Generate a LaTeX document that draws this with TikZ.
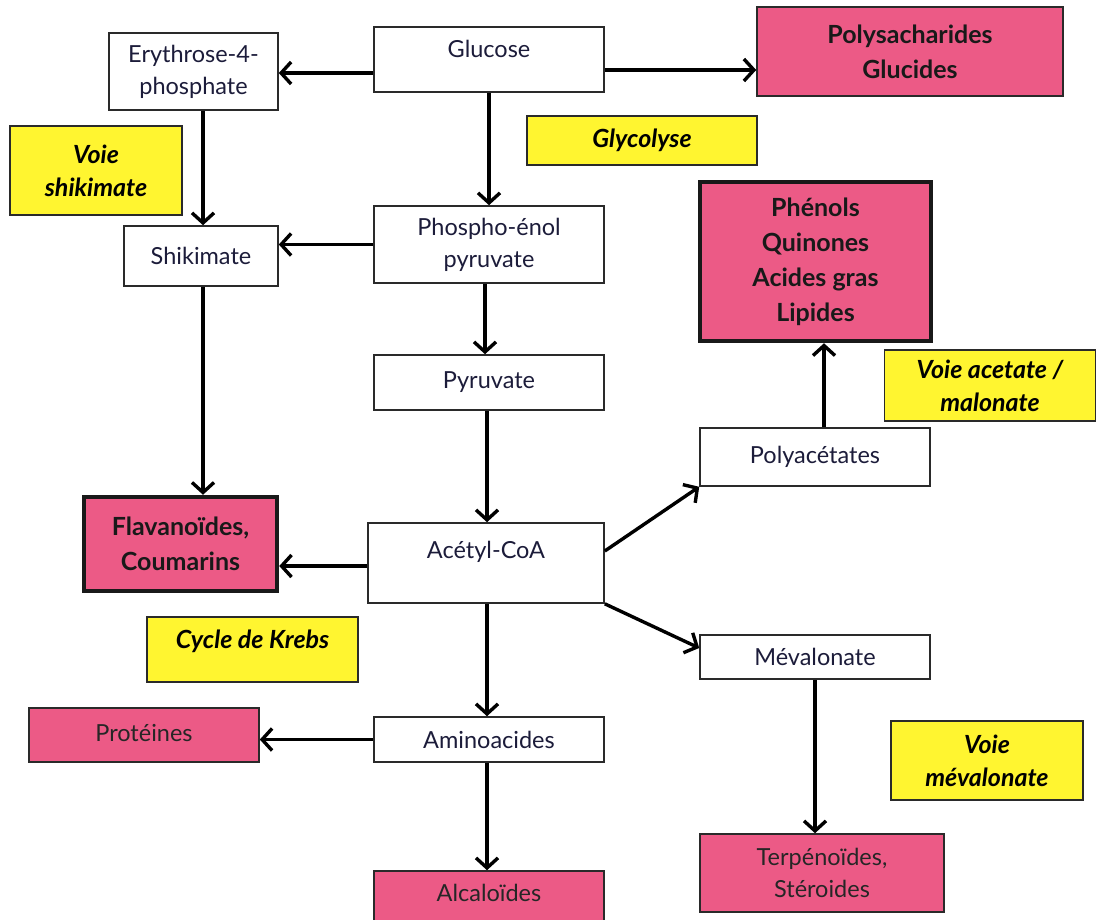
\documentclass[tikz,border=0pt]{standalone}
\usepackage{fontspec}
\setmainfont{Lato}
\usetikzlibrary{arrows.meta}
\definecolor{pinkc}{HTML}{EC5A86}
\definecolor{yellc}{HTML}{FFF530}
\definecolor{navyt}{HTML}{1C1C3A}
\definecolor{edgec}{HTML}{2A2A2A}
\tikzset{
  regfont/.style={font=\fontsize{23.5}{32}\selectfont},
  base/.style={rectangle, draw=edgec, line width=1.6pt, inner sep=2pt, align=center, regfont},
  wbox/.style={base, fill=white, text=navyt},
  pbox/.style={base, fill=pinkc, text=black!85},
  pbold/.style={base, fill=pinkc, text=black!90, font=\fontsize{25}{35}\selectfont\bfseries},
  thickbox/.style={pbold, line width=4.5pt, draw=black!90},
  ybox/.style={base, fill=yellc, text=black, font=\fontsize{25}{33}\selectfont\bfseries\itshape},
  arr/.style={line width=3.4pt, black, -{Straight Barb[length=10pt,width=22pt]}},
}
\begin{document}
\begin{tikzpicture}[x=1pt,y=-1pt]
\useasboundingbox (0,0) rectangle (1097,919);
% boxes
\node[wbox, minimum width=169pt, minimum height=77pt] (ery) at (193.5,71.5) {Erythrose-4-\\phosphate};
\node[wbox, minimum width=230pt, minimum height=65pt] (glu) at (489,59.5) {};
\node[text=navyt, regfont, anchor=base] (glut) at (489,57) {Glucose};
\node[pbold, minimum width=306pt, minimum height=89pt] (poly) at (910,51.5) {Polysacharides\\Glucides};
\node[ybox, minimum width=230pt, minimum height=49pt] (glyc) at (642,140.5) {Glycolyse};
\node[ybox, minimum width=172pt, minimum height=89pt] (vshik) at (96,170.5) {Voie\\shikimate};
\node[wbox, minimum width=154pt, minimum height=60pt] (shik) at (201,256) {Shikimate};
\node[wbox, minimum width=230pt, minimum height=77pt] (pep) at (489,244.5) {Phospho-énol\\pyruvate};
\node[thickbox, minimum width=231pt, minimum height=159pt] (phen) at (815.5,261.5) {Phénols\\Quinones\\Acides gras\\Lipides};
\node[ybox, minimum width=211pt, minimum height=71pt] (vacet) at (990,385.5) {Voie acetate /\\malonate};
\node[wbox, minimum width=230pt, minimum height=55pt] (pyr) at (489,382.5) {Pyruvate};
\node[wbox, minimum width=230pt, minimum height=58pt] (polyac) at (815,457) {Polyacétates};
\node[thickbox, minimum width=193pt, minimum height=94pt] (flav) at (180.5,544) {Flavanoïdes,\\Coumarins};
\node[wbox, minimum width=236pt, minimum height=80pt] (acet) at (486,563) {};
\node[text=navyt, regfont, anchor=base] (acett) at (486,558) {Acétyl-CoA};
\node[ybox, minimum width=211pt, minimum height=65pt] (krebs) at (252.5,649.5) {};
\node[font=\fontsize{25}{33}\selectfont\bfseries\itshape, anchor=base] (krebst) at (252.5,648) {Cycle de Krebs};
\node[wbox, minimum width=230pt, minimum height=44pt] (meval) at (815,657) {Mévalonate};
\node[pbox, minimum width=230pt, minimum height=54pt] (prot) at (144,735) {};
\node[text=black!85, regfont, anchor=base] (prott) at (144,741) {Protéines};
\node[wbox, minimum width=230pt, minimum height=45pt] (amino) at (489,739.5) {Aminoacides};
\node[ybox, minimum width=192pt, minimum height=79pt] (vmev) at (987,760.5) {Voie\\mévalonate};
\node[pbox, minimum width=244pt, minimum height=78pt] (terp) at (822,873) {Terpénoïdes,\\Stéroides};
\node[pbox, minimum width=230pt, minimum height=52pt] (alc) at (489,897) {};
\node[text=black!85, regfont, anchor=base] (alct) at (489,901) {Alcaloïdes};
% arrows
\draw[arr] ([yshift=-13.5pt]glu.west) coordinate (a1) -- (a1 -| ery.east);
\draw[arr] ([yshift=-10.5pt]glu.east) coordinate (a2) -- (a2 -| poly.west);
\draw[arr] (glu.south) -- (pep.north);
\draw[arr] ([xshift=9.5pt]ery.south) coordinate (a4) -- (a4 |- shik.north);
\draw[arr] (pep.west) -- (pep.west -| shik.east);
\draw[arr] ([xshift=-4pt]pep.south) coordinate (a6) -- (a6 |- pyr.north);
\draw[arr] ([xshift=2pt]shik.south) coordinate (a7) -- (a7 |- flav.north);
\draw[arr] ([xshift=-2pt]pyr.south) coordinate (a8) -- (a8 |- acet.north);
\draw[arr] ([yshift=-3pt]acet.west) coordinate (a9) -- (a9 -| flav.east);
\draw[arr] ([yshift=12pt]acet.east) -- (polyac.south west);
\draw[arr] (acet.south east) -- ([yshift=9pt]meval.west);
\draw[arr] ([xshift=1pt]acet.south) coordinate (a12) -- (a12 |- amino.north);
\draw[arr] (amino.west) -- (amino.west -| prot.east);
\draw[arr] ([xshift=-2pt]amino.south) coordinate (a14) -- (a14 |- alc.north);
\draw[arr] ([xshift=9pt]polyac.north) coordinate (a15) -- (a15 |- phen.south);
\draw[arr] (meval.south) -- (meval.south |- terp.north);
\end{tikzpicture}
\end{document}
